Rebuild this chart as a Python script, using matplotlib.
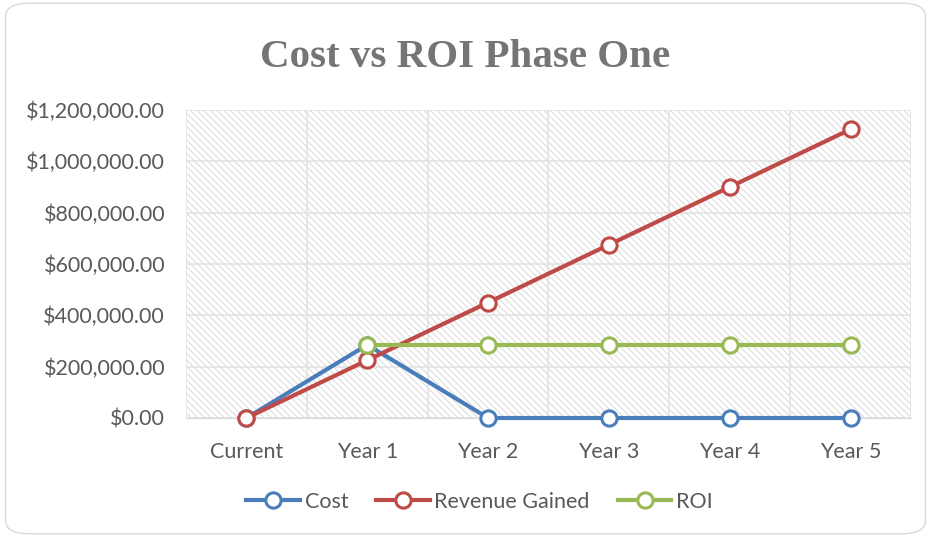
import matplotlib.pyplot as plt
import numpy as np
from matplotlib.patches import FancyBboxPatch
from matplotlib.ticker import FuncFormatter

categories = ["Current", "Year 1", "Year 2", "Year 3", "Year 4", "Year 5"]
cost = [0, 285000, 0, 0, 0, 0]
revenue = [0, 225000, 450000, 675000, 900000, 1125000]
roi = [np.nan, 285000, 285000, 285000, 285000, 285000]

plt.rcParams["font.family"] = ["Lato", "DejaVu Sans"]
plt.rcParams["hatch.color"] = "#d9d9d9"
plt.rcParams["hatch.linewidth"] = 0.7

fig = plt.figure(figsize=(9.31, 5.37), dpi=100)
ax = fig.add_axes([186 / 931, 1 - 418 / 537, 725 / 931, 308 / 537])

# rounded chart border
border = FancyBboxPatch((0.006, 0.006), 0.988, 0.988, boxstyle="round,pad=0,rounding_size=0.025",
                        transform=fig.transFigure, facecolor="white", edgecolor="#d9d9d9",
                        linewidth=1.0, zorder=-10)
fig.patches.append(border)

ax.set_facecolor("white")
ax.patch.set_hatch("\\\\\\\\\\")
ax.patch.set_edgecolor("#d9d9d9")

x = np.arange(len(categories))
series = [(cost, "#4a7ebb", "Cost"), (revenue, "#be4b48", "Revenue Gained"), (roi, "#98b954", "ROI")]
for vals, col, name in series:
    ax.plot(x, vals, color=col, linewidth=3, marker="o", markersize=11,
            markerfacecolor="white", markeredgecolor=col, markeredgewidth=2.2,
            label=name, zorder=3, clip_on=False)

ax.set_xlim(-0.5, len(categories) - 0.5)
ax.set_ylim(0, 1200000)
ax.set_yticks(np.arange(0, 1200001, 200000))
ax.yaxis.set_major_formatter(FuncFormatter(lambda v, p: f"${v:,.2f}"))
ax.set_xticks(x)
ax.set_xticklabels(categories)
ax.set_xticks(np.arange(-0.5, len(categories), 1), minor=True)

ax.grid(True, axis="y", color="#e3e3e3", linewidth=1.2)
ax.grid(True, axis="x", which="minor", color="#e3e3e3", linewidth=1.2)
ax.set_axisbelow(True)
for s in ax.spines.values():
    s.set_visible(False)
ax.spines["bottom"].set_visible(True)
ax.spines["bottom"].set_color("#d9d9d9")
ax.tick_params(axis="both", which="both", length=0, labelsize=15.5, colors="#595959")
ax.tick_params(axis="x", pad=17)
ax.tick_params(axis="y", pad=15)

fig.text(0.5, 1 - 57 / 537, "Cost vs ROI Phase One", ha="center", va="center",
         fontsize=29.5, fontweight="bold", color="#757575", family=["Liberation Serif", "DejaVu Serif"])

fig.legend(loc="center", bbox_to_anchor=(0.515, 1 - 502 / 537), ncol=3, frameon=False,
           fontsize=15.5, labelcolor="#595959", handlelength=2.5, handletextpad=0.2,
           columnspacing=1.3)

fig.savefig("out.png", dpi=100)
